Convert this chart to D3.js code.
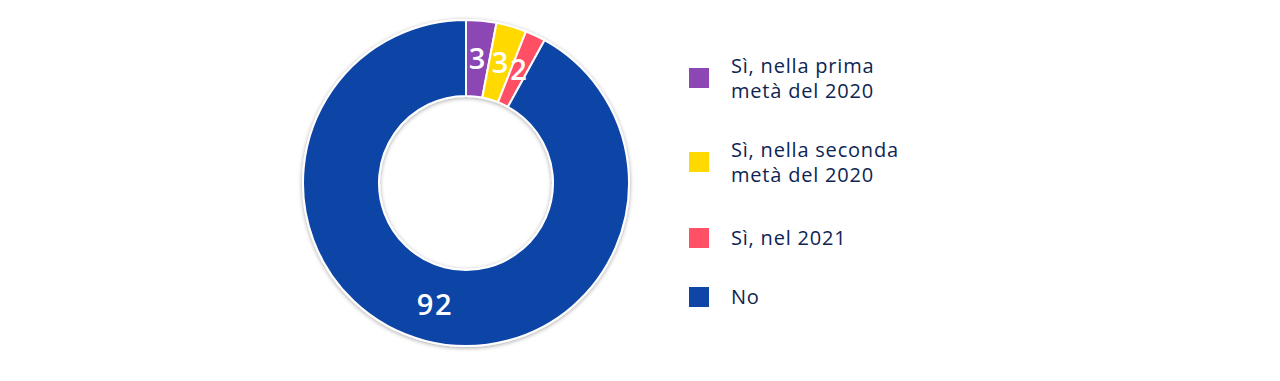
<!DOCTYPE html>
<html><head><meta charset="utf-8">
<script src="https://cdn.jsdelivr.net/npm/d3@7"></script>
<style>
html,body{margin:0;padding:0;background:#fff;}
svg{display:block;}
</style></head>
<body>
<svg id="chart" width="1280" height="381"></svg>
<script>
const categories = ["Sì, nella prima metà del 2020", "Sì, nella seconda metà del 2020", "Sì, nel 2021", "No"];
const legendLines = [["Sì, nella prima", "metà del 2020"], ["Sì, nella seconda", "metà del 2020"], ["Sì, nel 2021"], ["No"]];
const values = [3, 3, 2, 92];
const colors = ["#8c47b5", "#ffd900", "#ff5065", "#0f45a6"];

const svg = d3.select("#chart");
const defs = svg.append("defs");
const f = defs.append("filter").attr("id", "sh").attr("x", "-20%").attr("y", "-20%").attr("width", "140%").attr("height", "140%");
f.append("feDropShadow").attr("dx", 0).attr("dy", 1).attr("stdDeviation", 2).attr("flood-color", "#000").attr("flood-opacity", 0.35);

const cx = 466, cy = 183, rOuter = 163, rInner = 87;
const pie = d3.pie().sort(null).value(d => d)(values);
const arc = d3.arc().innerRadius(rInner).outerRadius(rOuter);
const labelArc = d3.arc().innerRadius(125).outerRadius(125);

const g = svg.append("g").attr("transform", `translate(${cx},${cy})`);
g.append("g").attr("filter", "url(#sh)")
  .selectAll("path").data(pie).join("path")
  .attr("d", arc)
  .attr("fill", (d, i) => colors[i])
  .attr("stroke", "#fff").attr("stroke-width", 2).attr("stroke-linejoin", "round");

g.selectAll("text.lbl").data(pie).join("text")
  .attr("class", "lbl")
  .attr("transform", d => `translate(${labelArc.centroid(d)})`)
  .attr("text-anchor", "middle").attr("dy", "0.36em")
  .attr("fill", "#fff")
  .style("font-family", "'Open Sans', sans-serif")
  .style("font-weight", 600).style("font-size", "29px").style("letter-spacing", "1.5px")
  .text(d => d.data);

const legendY = [78, 162, 238, 297];
const lg = svg.append("g");
categories.forEach((c, i) => {
  const row = lg.append("g").attr("transform", `translate(689,${legendY[i]})`);
  row.append("rect").attr("x", 0).attr("y", -10).attr("width", 20).attr("height", 20).attr("fill", colors[i]);
  const lines = legendLines[i];
  const t = row.append("text").attr("x", 42)
    .attr("fill", "#0d2552")
    .style("font-family", "'Open Sans', sans-serif")
    .style("font-size", "20px").style("font-weight", 500).style("letter-spacing", "0.8px");
  const lh = 25;
  const y0 = -(lines.length - 1) * lh / 2;
  lines.forEach((l, j) => {
    t.append("tspan").attr("x", 42).attr("y", y0 + j * lh).attr("dy", "0.35em").text(l);
  });
});
</script>
</body></html>
